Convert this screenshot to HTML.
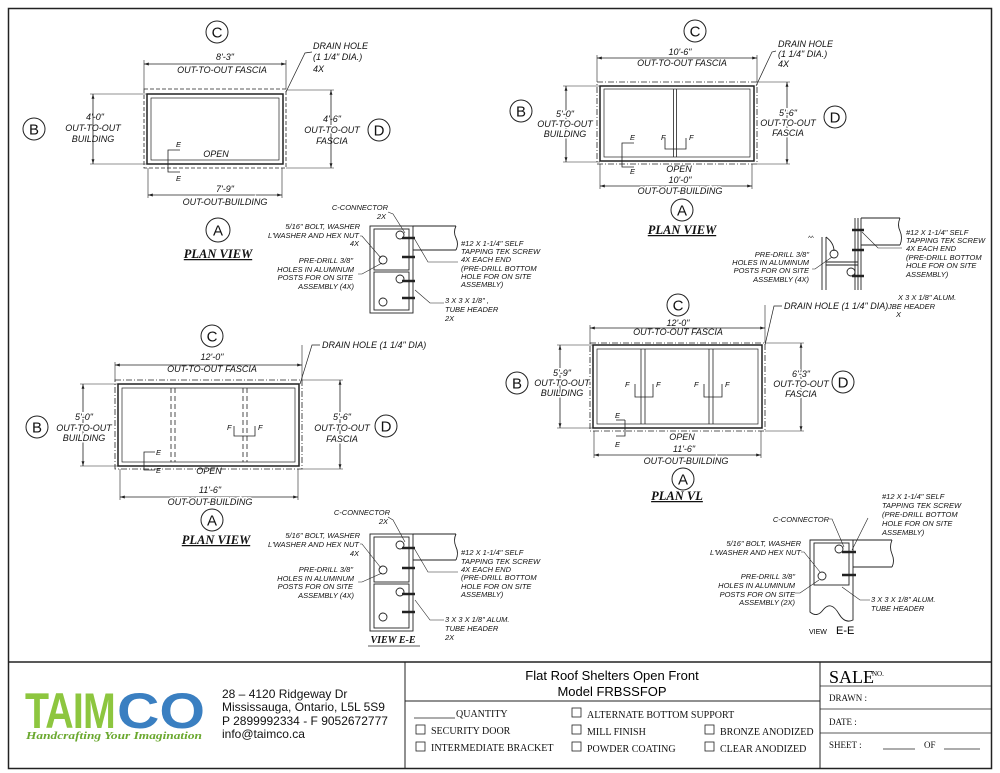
<!DOCTYPE html>
<html><head><meta charset="utf-8"><style>
body{margin:0;background:#fff}
svg{display:block}
.t{font-family:"Liberation Sans",sans-serif;font-style:italic;font-size:9px;fill:#111}
.s{font-family:"Liberation Sans",sans-serif;font-style:italic;font-size:7.5px;fill:#111}
.c{font-family:"Liberation Sans",sans-serif;font-size:15px;fill:#111}
.pv{font-family:"Liberation Serif",serif;font-style:italic;font-weight:bold;font-size:12.5px;fill:#111;text-decoration:underline}
.tb{font-family:"Liberation Serif",serif;font-size:10px;fill:#111}
.ad{font-family:"Liberation Sans",sans-serif;font-size:12px;fill:#111}
line,rect,path,circle,polyline{stroke:#222;fill:none}
</style></head><body>
<svg width="1000" height="773" viewBox="0 0 1000 773" xmlns="http://www.w3.org/2000/svg">
<defs>
<marker id="a" viewBox="0 0 10 10" refX="10" refY="5" markerWidth="6" markerHeight="6" orient="auto-start-reverse"><path d="M0,2 L10,5 L0,8" style="fill:#222;stroke:none"/></marker>
</defs>
<rect x="8.5" y="8.5" width="983" height="760" stroke-width="1.5"/>
<!-- ================= PLAN 1 ================= -->
<g>
<rect x="144" y="89" width="142" height="79" stroke-dasharray="4,2" stroke-width="0.8"/>
<rect x="147" y="94" width="136" height="70" stroke-width="1.5"/>
<rect x="151" y="98" width="128" height="62" stroke-width="0.7"/>
<line x1="144" y1="64" x2="286" y2="64" marker-start="url(#a)" marker-end="url(#a)" stroke-width="0.8"/>
<line x1="144" y1="60" x2="144" y2="89" stroke-width="0.6"/><line x1="286" y1="60" x2="286" y2="89" stroke-width="0.6"/>
<text class="t" x="225" y="60" text-anchor="middle">8'-3"</text>
<text class="t" x="222" y="73" text-anchor="middle">OUT-TO-OUT FASCIA</text>
<line x1="93" y1="94" x2="93" y2="164" marker-start="url(#a)" marker-end="url(#a)" stroke-width="0.8"/>
<line x1="90" y1="94" x2="147" y2="94" stroke-width="0.6"/><line x1="90" y1="164" x2="147" y2="164" stroke-width="0.6"/>
<text class="t" x="95" y="120" text-anchor="middle">4'-0"</text>
<text class="t" x="93" y="131" text-anchor="middle">OUT-TO-OUT</text>
<text class="t" x="93" y="142" text-anchor="middle">BUILDING</text>
<line x1="331" y1="90" x2="331" y2="168" marker-start="url(#a)" marker-end="url(#a)" stroke-width="0.8"/>
<line x1="286" y1="90" x2="334" y2="90" stroke-width="0.6"/><line x1="286" y1="168" x2="334" y2="168" stroke-width="0.6"/>
<text class="t" x="332" y="122" text-anchor="middle">4'-6"</text>
<text class="t" x="332" y="133" text-anchor="middle" style="fill:#111;paint-order:stroke;stroke:#fff;stroke-width:3">OUT-TO-OUT</text>
<text class="t" x="332" y="144" text-anchor="middle">FASCIA</text>
<circle cx="217" cy="32" r="11"/><text class="c" x="217" y="37.5" text-anchor="middle">C</text>
<circle cx="34" cy="129" r="11"/><text class="c" x="34" y="134.5" text-anchor="middle">B</text>
<circle cx="379" cy="130" r="11"/><text class="c" x="379" y="135.5" text-anchor="middle">D</text>
<circle cx="218" cy="230" r="12"/><text class="c" x="218" y="235.5" text-anchor="middle">A</text>
<line x1="148" y1="195" x2="282" y2="195" marker-start="url(#a)" marker-end="url(#a)" stroke-width="0.8"/>
<line x1="148" y1="168" x2="148" y2="198" stroke-width="0.6"/><line x1="282" y1="168" x2="282" y2="198" stroke-width="0.6"/>
<text class="t" x="225" y="192" text-anchor="middle">7'-9"</text>
<text class="t" x="225" y="205" text-anchor="middle" style="paint-order:stroke;stroke:#fff;stroke-width:3">OUT-OUT-BUILDING</text>
<text class="t" x="216" y="157" text-anchor="middle">OPEN</text>
<polyline points="180,150 168,150 168,172 180,172" stroke-width="0.8"/>
<text class="s" x="176" y="147">E</text><text class="s" x="176" y="181">E</text>
<text class="pv" x="218" y="258" text-anchor="middle">PLAN VIEW</text>
<text class="t" x="313" y="49">DRAIN HOLE</text><text class="t" x="313" y="60">(1 1/4" DIA.)</text><text class="t" x="313" y="72">4X</text>
<polyline points="312,52 305,53 286,92" stroke-width="0.7"/>
</g>
<!-- ================= PLAN 2 ================= -->
<g>
<rect x="597" y="82" width="160" height="82" stroke-dasharray="6,2,1,2" stroke-width="0.8"/>
<rect x="600" y="86" width="154" height="75" stroke-width="1.5"/>
<rect x="604" y="89" width="146" height="68" stroke-width="0.7"/>
<line x1="673.5" y1="89" x2="673.5" y2="157" stroke-width="0.8"/><line x1="676.5" y1="89" x2="676.5" y2="157" stroke-width="0.8"/>
<line x1="597" y1="58" x2="757" y2="58" marker-start="url(#a)" marker-end="url(#a)" stroke-width="0.8"/>
<line x1="597" y1="55" x2="597" y2="82" stroke-width="0.6"/><line x1="757" y1="55" x2="757" y2="82" stroke-width="0.6"/>
<text class="t" x="680" y="55" text-anchor="middle">10'-6"</text>
<text class="t" x="682" y="66" text-anchor="middle">OUT-TO-OUT FASCIA</text>
<line x1="566" y1="86" x2="566" y2="162" marker-start="url(#a)" marker-end="url(#a)" stroke-width="0.8"/>
<line x1="563" y1="86" x2="600" y2="86" stroke-width="0.6"/><line x1="563" y1="162" x2="600" y2="162" stroke-width="0.6"/>
<text class="t" x="565" y="117" text-anchor="middle" style="paint-order:stroke;stroke:#fff;stroke-width:3">5'-0"</text>
<text class="t" x="565" y="127" text-anchor="middle" style="paint-order:stroke;stroke:#fff;stroke-width:3">OUT-TO-OUT</text>
<text class="t" x="565" y="137" text-anchor="middle" style="paint-order:stroke;stroke:#fff;stroke-width:3">BUILDING</text>
<line x1="787" y1="82" x2="787" y2="164" marker-start="url(#a)" marker-end="url(#a)" stroke-width="0.8"/>
<line x1="757" y1="82" x2="790" y2="82" stroke-width="0.6"/><line x1="757" y1="164" x2="790" y2="164" stroke-width="0.6"/>
<text class="t" x="788" y="116" text-anchor="middle" style="paint-order:stroke;stroke:#fff;stroke-width:3">5'-6"</text>
<text class="t" x="788" y="126" text-anchor="middle" style="paint-order:stroke;stroke:#fff;stroke-width:3">OUT-TO-OUT</text>
<text class="t" x="788" y="136" text-anchor="middle" style="paint-order:stroke;stroke:#fff;stroke-width:3">FASCIA</text>
<circle cx="695" cy="31" r="11"/><text class="c" x="695" y="36.5" text-anchor="middle">C</text>
<circle cx="521" cy="111" r="11"/><text class="c" x="521" y="116.5" text-anchor="middle">B</text>
<circle cx="835" cy="117" r="11"/><text class="c" x="835" y="122.5" text-anchor="middle">D</text>
<circle cx="682" cy="210" r="11"/><text class="c" x="682" y="215.5" text-anchor="middle">A</text>
<polyline points="634,143 622,143 622,167 634,167" stroke-width="0.8"/>
<text class="s" x="630" y="140">E</text><text class="s" x="630" y="174">E</text>
<polyline points="665,138 665,149 686,149 686,138" stroke-width="0.8"/>
<text class="s" x="661" y="140">F</text><text class="s" x="689" y="140">F</text>
<text class="t" x="679" y="172" text-anchor="middle">OPEN</text>
<text class="t" x="680" y="183" text-anchor="middle">10'-0"</text>
<line x1="600" y1="186" x2="752" y2="186" marker-start="url(#a)" marker-end="url(#a)" stroke-width="0.8"/>
<line x1="600" y1="164" x2="600" y2="189" stroke-width="0.6"/><line x1="752" y1="164" x2="752" y2="189" stroke-width="0.6"/>
<text class="t" x="680" y="194" text-anchor="middle" style="paint-order:stroke;stroke:#fff;stroke-width:3">OUT-OUT-BUILDING</text>
<text class="pv" x="682" y="234" text-anchor="middle">PLAN VIEW</text>
<text class="t" x="778" y="47">DRAIN HOLE</text><text class="t" x="778" y="57">(1 1/4" DIA.)</text><text class="t" x="778" y="67">4X</text>
<polyline points="776,51 772,52 756,86" stroke-width="0.7"/>
</g>
<!-- ================= PLAN 3 ================= -->
<g>
<rect x="115" y="380" width="187" height="89" stroke-dasharray="6,2,1,2" stroke-width="0.8"/>
<rect x="118" y="384" width="181" height="82" stroke-width="1.5"/>
<rect x="122" y="388" width="173" height="74" stroke-width="0.7"/>
<line x1="171" y1="388" x2="171" y2="462" stroke-dasharray="5,3" stroke-width="0.8"/><line x1="175" y1="388" x2="175" y2="462" stroke-dasharray="5,3" stroke-width="0.8"/>
<line x1="243" y1="388" x2="243" y2="462" stroke-dasharray="5,3" stroke-width="0.8"/><line x1="247" y1="388" x2="247" y2="462" stroke-dasharray="5,3" stroke-width="0.8"/>
<line x1="115" y1="365" x2="302" y2="365" marker-start="url(#a)" marker-end="url(#a)" stroke-width="0.8"/>
<line x1="115" y1="362" x2="115" y2="380" stroke-width="0.6"/><line x1="302" y1="345" x2="302" y2="380" stroke-width="0.6"/>
<text class="t" x="212" y="360" text-anchor="middle">12'-0"</text>
<text class="t" x="212" y="372" text-anchor="middle">OUT-TO-OUT FASCIA</text>
<circle cx="212" cy="336" r="11"/><text class="c" x="212" y="341.5" text-anchor="middle">C</text>
<line x1="83" y1="384" x2="83" y2="466" marker-start="url(#a)" marker-end="url(#a)" stroke-width="0.8"/>
<line x1="80" y1="384" x2="118" y2="384" stroke-width="0.6"/><line x1="80" y1="466" x2="118" y2="466" stroke-width="0.6"/>
<text class="t" x="84" y="420" text-anchor="middle" style="paint-order:stroke;stroke:#fff;stroke-width:3">5'-0"</text>
<text class="t" x="84" y="431" text-anchor="middle" style="paint-order:stroke;stroke:#fff;stroke-width:3">OUT-TO-OUT</text>
<text class="t" x="84" y="441" text-anchor="middle" style="paint-order:stroke;stroke:#fff;stroke-width:3">BUILDING</text>
<circle cx="37" cy="427" r="11"/><text class="c" x="37" y="432.5" text-anchor="middle">B</text>
<line x1="340" y1="380" x2="340" y2="469" marker-start="url(#a)" marker-end="url(#a)" stroke-width="0.8"/>
<line x1="302" y1="380" x2="343" y2="380" stroke-width="0.6"/><line x1="302" y1="469" x2="343" y2="469" stroke-width="0.6"/>
<text class="t" x="342" y="420" text-anchor="middle" style="paint-order:stroke;stroke:#fff;stroke-width:3">5'-6"</text>
<text class="t" x="342" y="431" text-anchor="middle" style="paint-order:stroke;stroke:#fff;stroke-width:3">OUT-TO-OUT</text>
<text class="t" x="342" y="442" text-anchor="middle" style="paint-order:stroke;stroke:#fff;stroke-width:3">FASCIA</text>
<circle cx="386" cy="426" r="11"/><text class="c" x="386" y="431.5" text-anchor="middle">D</text>
<polyline points="155,452 144,452 144,470 155,470" stroke-width="0.8"/>
<text class="s" x="156" y="455">E</text><text class="s" x="156" y="473">E</text>
<polyline points="234,426 234,436 255,436 255,426" stroke-width="0.8"/>
<text class="s" x="227" y="430">F</text><text class="s" x="258" y="430">F</text>
<text class="t" x="209" y="474" text-anchor="middle">OPEN</text>
<line x1="120" y1="497" x2="298" y2="497" marker-start="url(#a)" marker-end="url(#a)" stroke-width="0.8"/>
<line x1="120" y1="469" x2="120" y2="500" stroke-width="0.6"/><line x1="298" y1="469" x2="298" y2="500" stroke-width="0.6"/>
<text class="t" x="210" y="493" text-anchor="middle">11'-6"</text>
<text class="t" x="210" y="505" text-anchor="middle" style="paint-order:stroke;stroke:#fff;stroke-width:3">OUT-OUT-BUILDING</text>
<circle cx="212" cy="520" r="11"/><text class="c" x="212" y="525.5" text-anchor="middle">A</text>
<text class="pv" x="216" y="544" text-anchor="middle">PLAN VIEW</text>
<text class="t" x="322" y="348">DRAIN HOLE (1 1/4" DIA)</text>
<polyline points="320,345 312,345 300,384" stroke-width="0.7"/>
</g>
<!-- ================= PLAN 4 ================= -->
<g>
<rect x="590" y="343" width="175" height="88" stroke-dasharray="6,2,1,2" stroke-width="0.8"/>
<rect x="593" y="345" width="169" height="83" stroke-width="1.5"/>
<rect x="597" y="349" width="161" height="75" stroke-width="0.7"/>
<line x1="641" y1="349" x2="641" y2="424" stroke-width="0.8"/><line x1="645" y1="349" x2="645" y2="424" stroke-width="0.8"/>
<line x1="709" y1="349" x2="709" y2="424" stroke-width="0.8"/><line x1="713" y1="349" x2="713" y2="424" stroke-width="0.8"/>
<line x1="590" y1="328" x2="765" y2="328" marker-start="url(#a)" marker-end="url(#a)" stroke-width="0.8"/>
<line x1="590" y1="325" x2="590" y2="343" stroke-width="0.6"/><line x1="765" y1="305" x2="765" y2="343" stroke-width="0.6"/>
<text class="t" x="678" y="326" text-anchor="middle">12'-0"</text>
<text class="t" x="678" y="335" text-anchor="middle">OUT-TO-OUT FASCIA</text>
<circle cx="678" cy="305" r="11"/><text class="c" x="678" y="310.5" text-anchor="middle">C</text>
<line x1="560" y1="345" x2="560" y2="428" marker-start="url(#a)" marker-end="url(#a)" stroke-width="0.8"/>
<line x1="557" y1="345" x2="593" y2="345" stroke-width="0.6"/><line x1="557" y1="428" x2="593" y2="428" stroke-width="0.6"/>
<text class="t" x="562" y="376" text-anchor="middle" style="paint-order:stroke;stroke:#fff;stroke-width:3">5'-9"</text>
<text class="t" x="562" y="386" text-anchor="middle" style="paint-order:stroke;stroke:#fff;stroke-width:3">OUT-TO-OUT</text>
<text class="t" x="562" y="396" text-anchor="middle" style="paint-order:stroke;stroke:#fff;stroke-width:3">BUILDING</text>
<circle cx="517" cy="383" r="11"/><text class="c" x="517" y="388.5" text-anchor="middle">B</text>
<line x1="801" y1="343" x2="801" y2="431" marker-start="url(#a)" marker-end="url(#a)" stroke-width="0.8"/>
<line x1="765" y1="343" x2="804" y2="343" stroke-width="0.6"/><line x1="765" y1="431" x2="804" y2="431" stroke-width="0.6"/>
<text class="t" x="801" y="377" text-anchor="middle" style="paint-order:stroke;stroke:#fff;stroke-width:3">6'-3"</text>
<text class="t" x="801" y="387" text-anchor="middle" style="paint-order:stroke;stroke:#fff;stroke-width:3">OUT-TO-OUT</text>
<text class="t" x="801" y="397" text-anchor="middle" style="paint-order:stroke;stroke:#fff;stroke-width:3">FASCIA</text>
<circle cx="843" cy="382" r="11"/><text class="c" x="843" y="387.5" text-anchor="middle">D</text>
<polyline points="625,420 625,436 616,436" stroke-width="0.8"/><line x1="616" y1="420" x2="625" y2="420" stroke-width="0.8"/>
<text class="s" x="615" y="418">E</text><text class="s" x="615" y="447">E</text>
<polyline points="635,384 635,397 653,397 653,384" stroke-width="0.8"/>
<text class="s" x="625" y="387">F</text><text class="s" x="656" y="387">F</text>
<polyline points="704,384 704,397 722,397 722,384" stroke-width="0.8"/>
<text class="s" x="694" y="387">F</text><text class="s" x="725" y="387">F</text>
<text class="t" x="682" y="440" text-anchor="middle">OPEN</text>
<line x1="594" y1="455" x2="761" y2="455" marker-start="url(#a)" marker-end="url(#a)" stroke-width="0.8"/>
<line x1="594" y1="431" x2="594" y2="458" stroke-width="0.6"/><line x1="761" y1="431" x2="761" y2="458" stroke-width="0.6"/>
<text class="t" x="684" y="452" text-anchor="middle">11'-6"</text>
<text class="t" x="686" y="464" text-anchor="middle" style="paint-order:stroke;stroke:#fff;stroke-width:3">OUT-OUT-BUILDING</text>
<circle cx="683" cy="479" r="11"/><text class="c" x="683" y="484.5" text-anchor="middle">A</text>
<text class="pv" x="677" y="500" text-anchor="middle">PLAN VL</text>
<text class="t" x="784" y="309">DRAIN HOLE (1 1/4" DIA)</text>
<polyline points="782,306 774,306 765,345" stroke-width="0.7"/>
<text class="s" x="898" y="300">X 3 X 1/8" ALUM.</text>
<text class="s" x="888" y="309">JBE HEADER</text>
<text class="s" x="896" y="317">X</text>
</g>
<!-- ================= DETAIL 1 ================= -->
<g stroke-width="0.9">
<rect x="370" y="226" width="43" height="87"/>
<rect x="374" y="229" width="35" height="41"/>
<rect x="374" y="272" width="35" height="38"/>
<line x1="413" y1="226" x2="456" y2="226"/><line x1="413" y1="250" x2="456" y2="250"/>
<path d="M456,226 q-3,6 0,12 q3,6 0,12"/>
<circle cx="400" cy="235" r="4"/><circle cx="383" cy="260" r="4"/><circle cx="400" cy="279" r="4"/><circle cx="383" cy="302" r="4"/>
<g stroke-width="2.5"><line x1="402" y1="238" x2="415" y2="238"/><line x1="402" y1="257" x2="415" y2="257"/><line x1="402" y1="281" x2="415" y2="281"/><line x1="402" y1="298" x2="415" y2="298"/></g>
<polyline points="388,212 393,214 405,233" stroke-width="0.6"/>
<polyline points="360,236 362,236 381,258" stroke-width="0.6"/>
<polyline points="358,274 362,274 382,263" stroke-width="0.6"/>
<polyline points="414,238 428,262 458,262" stroke-width="0.6"/>
<polyline points="415,290 430,303 444,303" stroke-width="0.6"/>
</g>
<text class="s" x="388" y="210" text-anchor="end">C-CONNECTOR</text><text class="s" x="386" y="219" text-anchor="end">2X</text>
<text class="s" x="360" y="229" text-anchor="end">5/16" BOLT, WASHER</text>
<text class="s" x="359" y="238" text-anchor="end">L'WASHER AND HEX NUT</text>
<text class="s" x="359" y="246" text-anchor="end">4X</text>
<text class="s" x="353" y="263" text-anchor="end">PRE-DRILL 3/8"</text>
<text class="s" x="354" y="272" text-anchor="end">HOLES IN ALUMINUM</text>
<text class="s" x="353" y="280" text-anchor="end">POSTS FOR ON SITE</text>
<text class="s" x="354" y="289" text-anchor="end">ASSEMBLY (4X)</text>
<text class="s" x="461" y="246">#12 X 1-1/4" SELF</text>
<text class="s" x="461" y="254">TAPPING TEK SCREW</text>
<text class="s" x="461" y="262">4X EACH END</text>
<text class="s" x="461" y="271">(PRE-DRILL BOTTOM</text>
<text class="s" x="461" y="279">HOLE FOR ON SITE</text>
<text class="s" x="461" y="287">ASSEMBLY)</text>
<text class="s" x="445" y="303">3 X 3 X 1/8" ,</text>
<text class="s" x="445" y="312">TUBE HEADER</text>
<text class="s" x="445" y="321">2X</text>
<!-- ================= DETAIL 2 ================= -->
<g stroke-width="0.9">
<rect x="370" y="534" width="43" height="97"/>
<rect x="374" y="537" width="35" height="45"/>
<rect x="374" y="584" width="35" height="44"/>
<line x1="413" y1="534" x2="456" y2="534"/><line x1="413" y1="560" x2="456" y2="560"/>
<path d="M456,534 q-3,6 0,13 q3,6 0,13"/>
<circle cx="400" cy="545" r="4"/><circle cx="383" cy="570" r="4"/><circle cx="400" cy="592" r="4"/><circle cx="383" cy="617" r="4"/>
<g stroke-width="2.5"><line x1="402" y1="548" x2="415" y2="548"/><line x1="402" y1="568" x2="415" y2="568"/><line x1="402" y1="594" x2="415" y2="594"/><line x1="402" y1="612" x2="415" y2="612"/></g>
<polyline points="388,517 393,520 405,542" stroke-width="0.6"/>
<polyline points="360,544 362,544 381,568" stroke-width="0.6"/>
<polyline points="358,582 362,582 382,573" stroke-width="0.6"/>
<polyline points="414,548 428,572 458,572" stroke-width="0.6"/>
<polyline points="415,600 430,620 444,620" stroke-width="0.6"/>
</g>
<text class="s" x="390" y="515" text-anchor="end">C-CONNECTOR</text><text class="s" x="388" y="524" text-anchor="end">2X</text>
<text class="s" x="360" y="538" text-anchor="end">5/16" BOLT, WASHER</text>
<text class="s" x="359" y="547" text-anchor="end">L'WASHER AND HEX NUT</text>
<text class="s" x="359" y="556" text-anchor="end">4X</text>
<text class="s" x="353" y="572" text-anchor="end">PRE-DRILL 3/8"</text>
<text class="s" x="354" y="581" text-anchor="end">HOLES IN ALUMINUM</text>
<text class="s" x="353" y="589" text-anchor="end">POSTS FOR ON SITE</text>
<text class="s" x="354" y="598" text-anchor="end">ASSEMBLY (4X)</text>
<text class="s" x="461" y="555">#12 X 1-1/4" SELF</text>
<text class="s" x="461" y="564">TAPPING TEK SCREW</text>
<text class="s" x="461" y="572">4X EACH END</text>
<text class="s" x="461" y="580">(PRE-DRILL BOTTOM</text>
<text class="s" x="461" y="589">HOLE FOR ON SITE</text>
<text class="s" x="461" y="597">ASSEMBLY)</text>
<text class="s" x="445" y="622">3 X 3 X 1/8" ALUM.</text>
<text class="s" x="445" y="631">TUBE HEADER</text>
<text class="s" x="445" y="640">2X</text>
<text class="pv" x="393" y="643" text-anchor="middle" style="font-size:10px;text-decoration:none">VIEW E-E</text>
<line x1="368" y1="646" x2="420" y2="646" stroke-width="0.8"/>
<!-- ================= DETAIL 3 (partial) ================= -->
<g stroke-width="0.9">
<line x1="822" y1="237" x2="822" y2="290"/><line x1="826" y1="237" x2="826" y2="290"/>
<path d="M826,237 q8,6 8,14"/>
<circle cx="834" cy="254" r="4"/><circle cx="851" cy="272" r="4"/>
<line x1="826" y1="262" x2="858" y2="262"/><line x1="826" y1="265" x2="858" y2="265"/>
<line x1="855" y1="218" x2="855" y2="290"/><line x1="858" y1="218" x2="858" y2="290"/><line x1="861" y1="218" x2="861" y2="290"/>
<line x1="861" y1="218" x2="900" y2="218"/><line x1="861" y1="245" x2="900" y2="245"/>
<path d="M900,218 q-3,7 0,13 q3,7 0,14"/>
<g stroke-width="2.5"><line x1="852" y1="230" x2="864" y2="230"/><line x1="852" y1="250" x2="864" y2="250"/><line x1="852" y1="276" x2="864" y2="276"/></g>
<polyline points="812,269 815,269 832,257" stroke-width="0.6"/>
<polyline points="862,232 878,248 902,248" stroke-width="0.6"/>
</g>
<text class="s" x="808" y="240" style="font-size:6px">^^</text>
<text class="s" x="809" y="257" text-anchor="end">PRE-DRILL 3/8"</text>
<text class="s" x="809" y="265" text-anchor="end">HOLES IN ALUMINUM</text>
<text class="s" x="809" y="273" text-anchor="end">POSTS FOR ON SITE</text>
<text class="s" x="809" y="282" text-anchor="end">ASSEMBLY (4X)</text>
<text class="s" x="906" y="235">#12 X 1-1/4" SELF</text>
<text class="s" x="906" y="243">TAPPING TEK SCREW</text>
<text class="s" x="906" y="251">4X EACH END</text>
<text class="s" x="906" y="260">(PRE-DRILL BOTTOM</text>
<text class="s" x="906" y="268">HOLE FOR ON SITE</text>
<text class="s" x="906" y="277">ASSEMBLY)</text>
<!-- ================= DETAIL 4 ================= -->
<g stroke-width="0.9">
<path d="M810,540 L853,540 L853,620 q-8,4 -14,-6 q-8,-14 -16,-4 q-6,8 -13,2 Z"/>
<rect x="814" y="543" width="35" height="42"/>
<line x1="853" y1="540" x2="892" y2="540"/><line x1="853" y1="567" x2="892" y2="567"/>
<path d="M892,540 q-3,7 0,14 q3,7 0,13"/>
<circle cx="839" cy="549" r="4"/><circle cx="822" cy="576" r="4"/>
<g stroke-width="2.5"><line x1="842" y1="552" x2="856" y2="552"/><line x1="842" y1="575" x2="856" y2="575"/></g>
<polyline points="829,519 832,519 844,547" stroke-width="0.6"/>
<polyline points="801,552 804,552 820,572" stroke-width="0.6"/>
<polyline points="795,593 800,593 819,580" stroke-width="0.6"/>
<polyline points="852,550 868,518" stroke-width="0.6"/>
<polyline points="842,587 860,600 870,600" stroke-width="0.6"/>
</g>
<text class="s" x="829" y="522" text-anchor="end">C-CONNECTOR</text>
<text class="s" x="801" y="546" text-anchor="end">5/16" BOLT, WASHER</text>
<text class="s" x="801" y="555" text-anchor="end">L'WASHER AND HEX NUT</text>
<text class="s" x="795" y="579" text-anchor="end">PRE-DRILL 3/8"</text>
<text class="s" x="795" y="588" text-anchor="end">HOLES IN ALUMINUM</text>
<text class="s" x="795" y="597" text-anchor="end">POSTS FOR ON SITE</text>
<text class="s" x="795" y="605" text-anchor="end">ASSEMBLY (2X)</text>
<text class="s" x="882" y="499">#12 X 1-1/4" SELF</text>
<text class="s" x="882" y="508">TAPPING TEK SCREW</text>
<text class="s" x="882" y="517">(PRE-DRILL BOTTOM</text>
<text class="s" x="882" y="526">HOLE FOR ON SITE</text>
<text class="s" x="882" y="535">ASSEMBLY)</text>
<text class="s" x="871" y="602">3 X 3 X 1/8" ALUM.</text>
<text class="s" x="871" y="611">TUBE HEADER</text>
<text style="font-family:'Liberation Sans',sans-serif;font-size:7px" x="809" y="634">VIEW</text>
<text style="font-family:'Liberation Sans',sans-serif;font-size:11px" x="836" y="634">E-E</text>
<!-- ================= TITLE BLOCK ================= -->
<line x1="8" y1="662" x2="992" y2="662" stroke-width="1.5"/>
<line x1="405" y1="662" x2="405" y2="768" stroke-width="1"/>
<line x1="820" y1="662" x2="820" y2="768" stroke-width="1"/>
<line x1="405" y1="701" x2="820" y2="701" stroke-width="1"/>
<line x1="820" y1="686" x2="992" y2="686" stroke-width="0.8"/>
<line x1="820" y1="709" x2="992" y2="709" stroke-width="0.8"/>
<line x1="820" y1="733" x2="992" y2="733" stroke-width="0.8"/>
<text x="25" y="728" style="font-family:'Liberation Sans',sans-serif;font-weight:bold;font-size:50px;fill:#8dc63f;letter-spacing:-1px" textLength="90" lengthAdjust="spacingAndGlyphs">TAIM</text>
<text x="117" y="728" style="font-family:'Liberation Sans',sans-serif;font-weight:bold;font-size:50px;fill:#3a7fc1" textLength="88" lengthAdjust="spacingAndGlyphs">CO</text>
<text x="26" y="739" style="font-family:'Liberation Serif',serif;font-style:italic;font-weight:bold;font-size:11px;fill:#6aa82e" textLength="176" lengthAdjust="spacingAndGlyphs">Handcrafting Your Imagination</text>
<text class="ad" x="222" y="698">28 – 4120 Ridgeway Dr</text>
<text class="ad" x="222" y="711">Mississauga, Ontario, L5L 5S9</text>
<text class="ad" x="222" y="725">P 2899992334 - F 9052672777</text>
<text class="ad" x="222" y="738">info@taimco.ca</text>
<text x="612" y="680" text-anchor="middle" style="font-family:'Liberation Sans',sans-serif;font-size:13px">Flat Roof Shelters Open Front</text>
<text x="612" y="696" text-anchor="middle" style="font-family:'Liberation Sans',sans-serif;font-size:13px">Model FRBSSFOP</text>
<line x1="414" y1="718" x2="455" y2="718" stroke-width="0.8"/>
<text class="tb" x="456" y="717">QUANTITY</text>
<rect x="416" y="725" width="9" height="9" stroke-width="0.8"/><text class="tb" x="431" y="734">SECURITY DOOR</text>
<rect x="416" y="742" width="9" height="9" stroke-width="0.8"/><text class="tb" x="431" y="751">INTERMEDIATE BRACKET</text>
<rect x="572" y="708" width="9" height="9" stroke-width="0.8"/><text class="tb" x="587" y="718">ALTERNATE BOTTOM SUPPORT</text>
<rect x="572" y="725" width="9" height="9" stroke-width="0.8"/><text class="tb" x="587" y="735">MILL FINISH</text>
<rect x="572" y="742" width="9" height="9" stroke-width="0.8"/><text class="tb" x="587" y="752">POWDER COATING</text>
<rect x="705" y="725" width="9" height="9" stroke-width="0.8"/><text class="tb" x="720" y="735">BRONZE ANODIZED</text>
<rect x="705" y="742" width="9" height="9" stroke-width="0.8"/><text class="tb" x="720" y="752">CLEAR ANODIZED</text>
<text x="829" y="683" style="font-family:'Liberation Serif',serif;font-size:18px">SALE</text>
<text x="872" y="676" style="font-family:'Liberation Serif',serif;font-size:7px">NO.</text>
<text class="tb" x="829" y="701" style="font-size:9px">DRAWN :</text>
<text class="tb" x="829" y="725" style="font-size:9px">DATE :</text>
<text class="tb" x="829" y="748" style="font-size:9px">SHEET :</text>
<line x1="883" y1="749" x2="915" y2="749" stroke-width="0.8"/>
<text class="tb" x="924" y="748" style="font-size:9px">OF</text>
<line x1="944" y1="749" x2="980" y2="749" stroke-width="0.8"/>
</svg>
</body></html>
